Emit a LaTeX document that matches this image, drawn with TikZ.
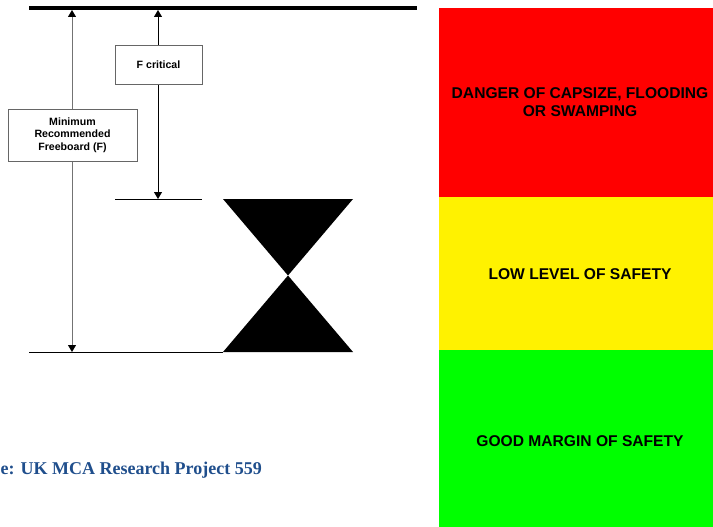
\documentclass[tikz,border=0pt]{standalone}
\usepackage{fontspec}
\setsansfont{Liberation Sans}
\newfontfamily\srcfont{Liberation Serif}
\usetikzlibrary{arrows.meta}
\definecolor{srcblue}{HTML}{1F4E8C}
\tikzset{
  lbox/.style={draw=black!60, line width=0.7pt, fill=white, align=center,
    font=\sffamily\bfseries\fontsize{10.6}{12.7}\selectfont},
  dim/.style={line width=0.9pt, {Triangle[width=8pt,length=7pt,color=black]}-{Triangle[width=8pt,length=7pt,color=black]}},
  band/.style={font=\sffamily\bfseries\fontsize{15.6}{18}\selectfont, align=center}
}
\begin{document}
\begin{tikzpicture}[x=1pt,y=-1pt]
	\useasboundingbox (0,0) rectangle (713,527);
	% deck and waterline
	\draw[line width=4pt] (29,8) -- (417,8);
	\coordinate (mtop) at (72,10);
	\coordinate (mbot) at (72,352);
	\coordinate (ctop) at (158,10);
	\coordinate (cbot) at (158,199);
	\draw[line width=0.8pt] (29,352) -- (223,352);
	\draw[line width=0.8pt] (115,199) -- (202,199);
	\fill (223,199) -- (353,199) -- (223,352) -- (353,352) -- cycle;
	\draw[dim, draw=black!55] (mtop) -- (mbot);
	\draw[dim] (ctop) -- (cbot);
	\node[lbox, minimum width=129pt, minimum height=52pt] (minf) at (72.5,135) {Minimum\\Recommended\\Freeboard (F)};
	\node[lbox, minimum width=87pt, minimum height=39pt] (fcrit) at (158.5,64.5) {F critical};
	% safety bands
	\fill[red] (439,8) rectangle (713,197);
	\fill[yellow] (439,197) rectangle (713,350);
	\fill[green] (439,350) rectangle (713,527);
	\node[band] (danger) at (580,102) {DANGER OF CAPSIZE, FLOODING\\OR SWAMPING};
	\node[band] (low) at (580,274) {LOW LEVEL OF SAFETY};
	\node[band] (good) at (580,441) {GOOD MARGIN OF SAFETY};
	\node[anchor=base east, text=srcblue, font=\srcfont\bfseries\fontsize{18}{22}\selectfont, inner sep=0pt] (src) at (262,474) {e: UK MCA Research Project 559};
\end{tikzpicture}
\end{document}
